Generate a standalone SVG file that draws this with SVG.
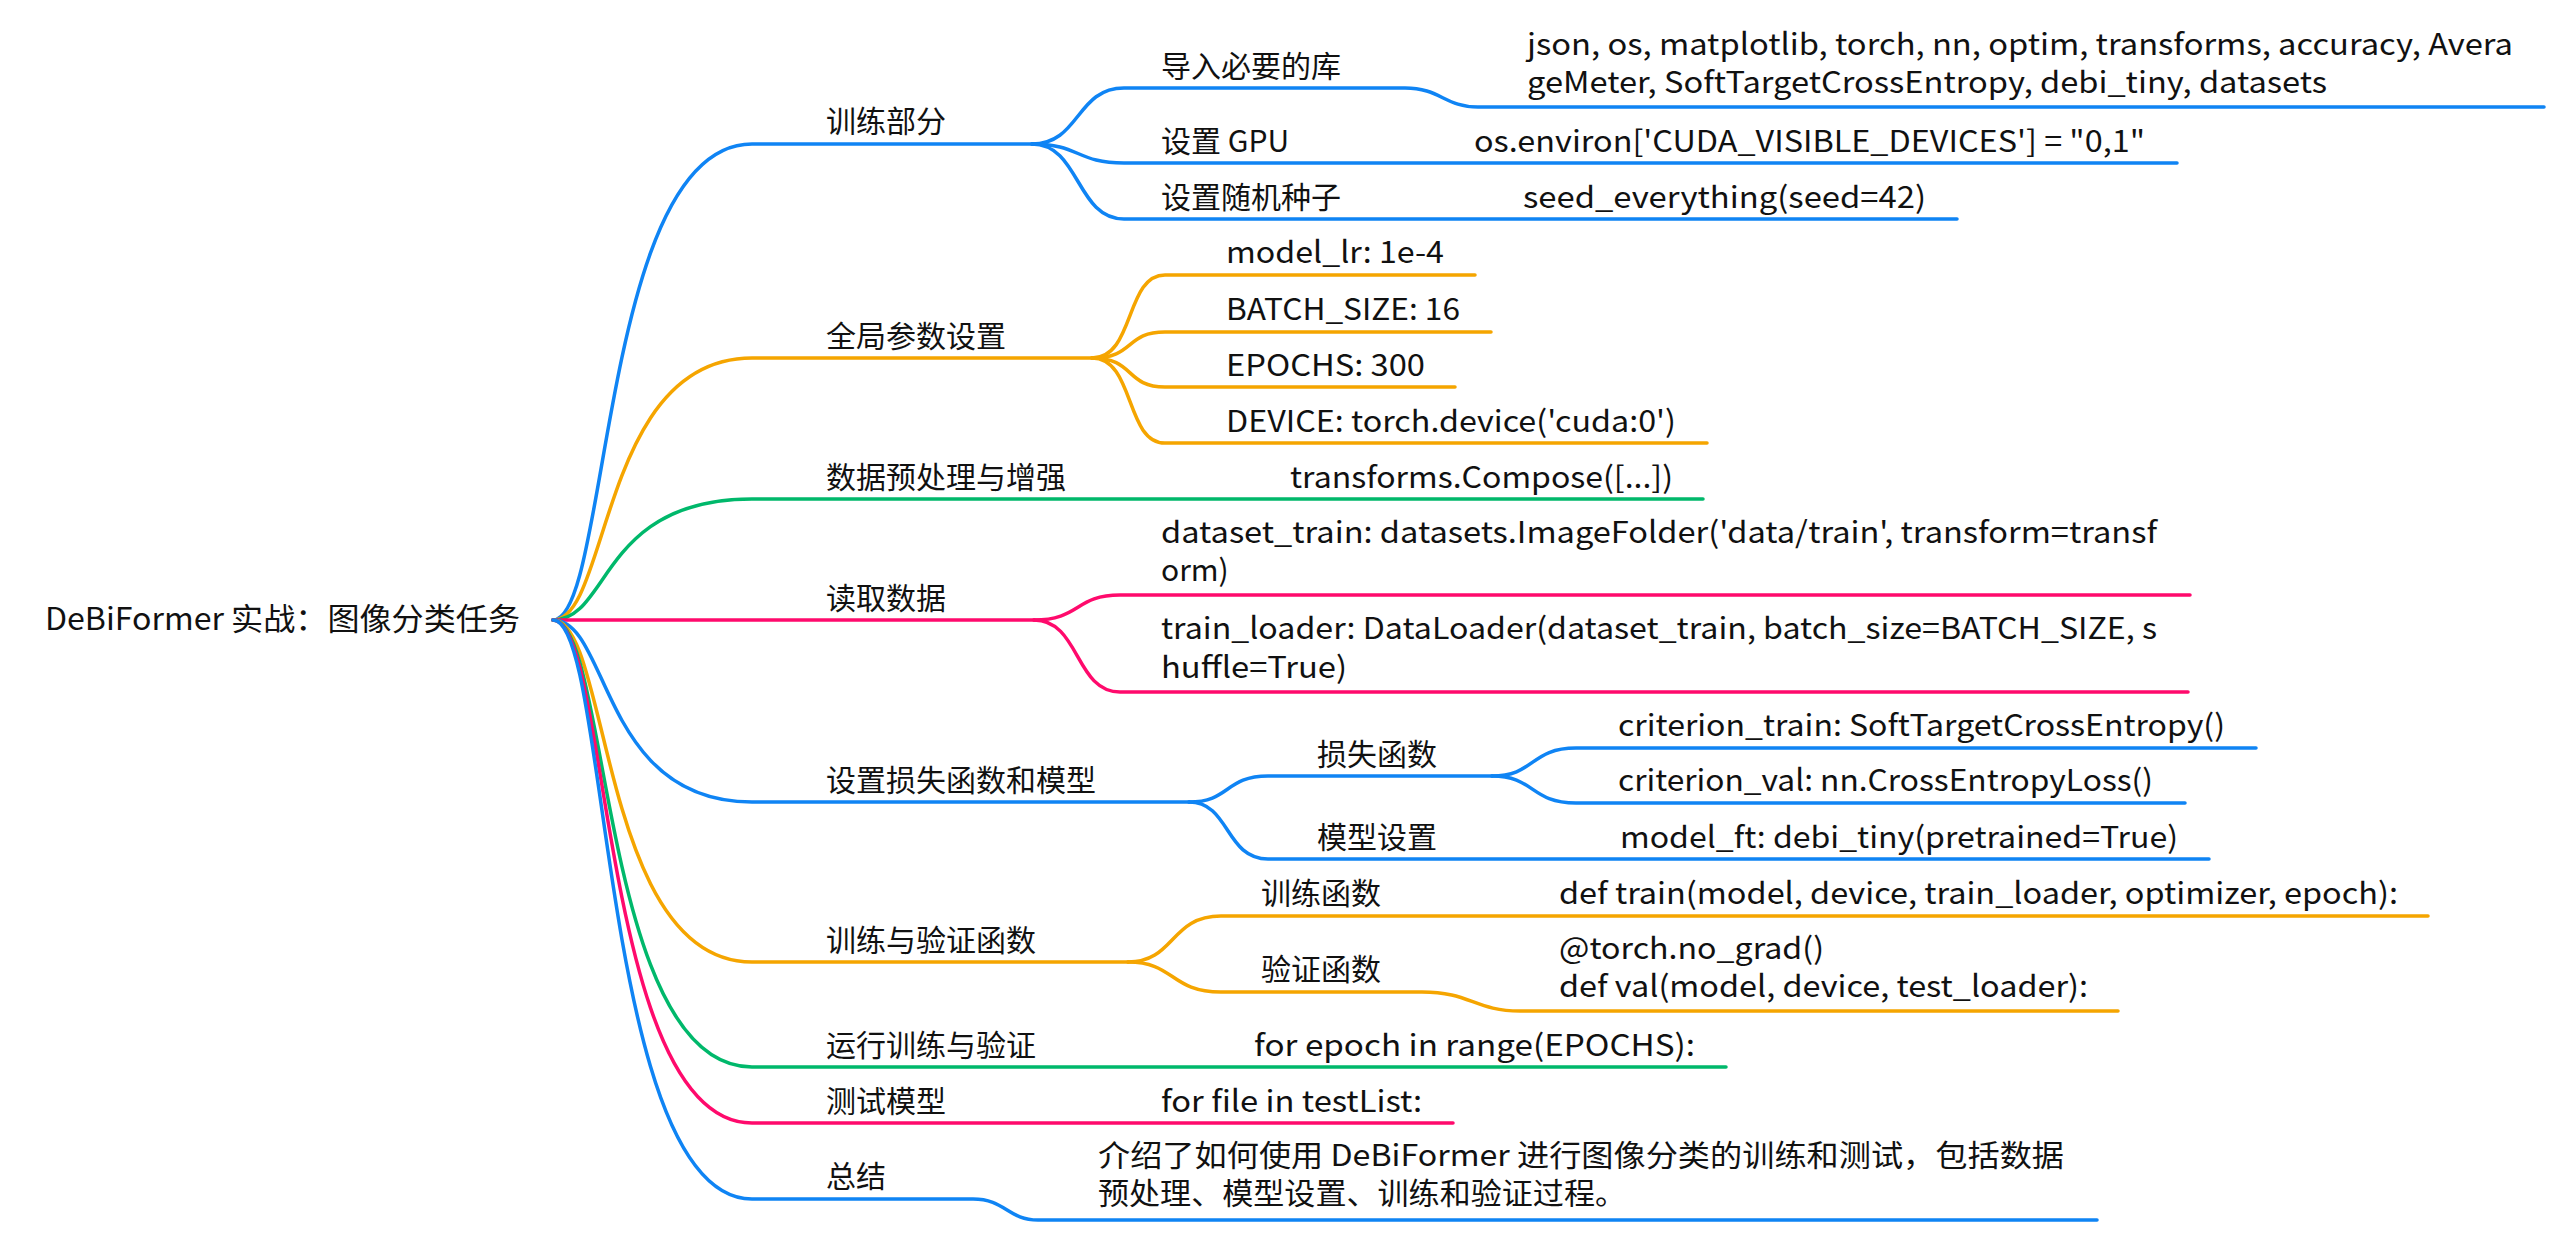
<svg xmlns="http://www.w3.org/2000/svg" width="2564" height="1240" viewBox="0 0 2564 1240">
<style>
text{font-family:"Noto Sans CJK SC","Noto Sans",sans-serif;font-size:30px;fill:#111}
.root{font-size:31px}
path{fill:none;stroke-width:3.5;stroke-linecap:round}
.b{stroke:#0f84f4}.o{stroke:#f5a500}.g{stroke:#00b86b}.p{stroke:#ff0a6c}
</style>
<rect width="2564" height="1240" fill="#fff"/>
<g id="connectors">
<path class="b" d="M553 620 C610 620 600 144 752 144 L1032 144"/>
<path class="b" d="M1032 144 C1080 144 1076 88 1124 88 L1405 88 C1440 88 1445 107 1478 107 L2544 107"/>
<path class="b" d="M1032 144 C1080 144 1076 163 1124 163 L2177 163"/>
<path class="b" d="M1032 144 C1080 144 1076 219 1124 219 L1957 219"/>
<path class="o" d="M553 620 C610 620 600 358 752 358 L1092 358"/>
<path class="o" d="M1092 358 C1135 358 1125 275 1165 275 L1475 275"/>
<path class="o" d="M1092 358 C1135 358 1125 332 1165 332 L1491 332"/>
<path class="o" d="M1092 358 C1135 358 1125 387 1165 387 L1455 387"/>
<path class="o" d="M1092 358 C1135 358 1125 443 1165 443 L1707 443"/>
<path class="g" d="M553 620 C610 620 600 499 752 499 L1703 499"/>
<path class="p" d="M553 620 C610 620 600 620 752 620 L1034 620"/>
<path class="p" d="M1034 620 C1080 620 1075 595 1120 595 L2190 595"/>
<path class="p" d="M1034 620 C1080 620 1075 692 1120 692 L2188 692"/>
<path class="b" d="M553 620 C610 620 600 802 752 802 L1189 802"/>
<path class="b" d="M1189 802 C1230 802 1225 776 1268 776 L1492 776"/>
<path class="b" d="M1492 776 C1535 776 1530 748 1576 748 L2256 748"/>
<path class="b" d="M1492 776 C1535 776 1530 803 1576 803 L2185 803"/>
<path class="b" d="M1189 802 C1230 802 1225 859 1268 859 L2209 859"/>
<path class="o" d="M553 620 C610 620 600 962 752 962 L1128 962"/>
<path class="o" d="M1128 962 C1175 962 1170 916 1221 916 L2428 916"/>
<path class="o" d="M1128 962 C1175 962 1170 992 1221 992 L1422 992 C1470 992 1475 1011 1520 1011 L2118 1011"/>
<path class="g" d="M553 620 C610 620 600 1067 752 1067 L1726 1067"/>
<path class="p" d="M553 620 C610 620 600 1123 752 1123 L1453 1123"/>
<path class="b" d="M553 620 C610 620 600 1199 752 1199 L973 1199 C1005 1199 1008 1220 1038 1220 L2097 1220"/>
</g>
<g id="root"><text class="root" x="45" y="630" textLength="475" lengthAdjust="spacingAndGlyphs">DeBiFormer 实战：图像分类任务</text></g>
<g id="n1"><text x="826" y="132">训练部分</text></g>
<g id="n1a"><text x="1161" y="77">导入必要的库</text><text x="1527" y="55" textLength="986" lengthAdjust="spacingAndGlyphs">json, os, matplotlib, torch, nn, optim, transforms, accuracy, Avera</text><text x="1527" y="93" textLength="800" lengthAdjust="spacingAndGlyphs">geMeter, SoftTargetCrossEntropy, debi_tiny, datasets</text></g>
<g id="n1b"><text x="1161" y="152">设置 GPU</text><text x="1474" y="152" textLength="671" lengthAdjust="spacingAndGlyphs">os.environ['CUDA_VISIBLE_DEVICES'] = "0,1"</text></g>
<g id="n1c"><text x="1161" y="208">设置随机种子</text><text x="1523" y="208" textLength="403" lengthAdjust="spacingAndGlyphs">seed_everything(seed=42)</text></g>
<g id="n2"><text x="826" y="347">全局参数设置</text></g>
<g id="n2a"><text x="1226" y="263" textLength="218" lengthAdjust="spacingAndGlyphs">model_lr: 1e-4</text></g>
<g id="n2b"><text x="1226" y="320" textLength="234" lengthAdjust="spacingAndGlyphs">BATCH_SIZE: 16</text></g>
<g id="n2c"><text x="1226" y="376" textLength="199" lengthAdjust="spacingAndGlyphs">EPOCHS: 300</text></g>
<g id="n2d"><text x="1226" y="432" textLength="450" lengthAdjust="spacingAndGlyphs">DEVICE: torch.device('cuda:0')</text></g>
<g id="n3"><text x="826" y="488">数据预处理与增强</text><text x="1290" y="488" textLength="383" lengthAdjust="spacingAndGlyphs">transforms.Compose([...])</text></g>
<g id="n4"><text x="826" y="609">读取数据</text></g>
<g id="n4a"><text x="1161" y="543" textLength="996" lengthAdjust="spacingAndGlyphs">dataset_train: datasets.ImageFolder('data/train', transform=transf</text><text x="1161" y="581">orm)</text></g>
<g id="n4b"><text x="1161" y="639" textLength="996" lengthAdjust="spacingAndGlyphs">train_loader: DataLoader(dataset_train, batch_size=BATCH_SIZE, s</text><text x="1161" y="678" textLength="186" lengthAdjust="spacingAndGlyphs">huffle=True)</text></g>
<g id="n5"><text x="826" y="791">设置损失函数和模型</text></g>
<g id="n5a"><text x="1317" y="765">损失函数</text></g>
<g id="n5a1"><text x="1618" y="736" textLength="607" lengthAdjust="spacingAndGlyphs">criterion_train: SoftTargetCrossEntropy()</text></g>
<g id="n5a2"><text x="1618" y="791" textLength="535" lengthAdjust="spacingAndGlyphs">criterion_val: nn.CrossEntropyLoss()</text></g>
<g id="n5b"><text x="1317" y="848">模型设置</text><text x="1620" y="848" textLength="558" lengthAdjust="spacingAndGlyphs">model_ft: debi_tiny(pretrained=True)</text></g>
<g id="n6"><text x="826" y="951">训练与验证函数</text></g>
<g id="n6a"><text x="1261" y="904">训练函数</text><text x="1559" y="904" textLength="839" lengthAdjust="spacingAndGlyphs">def train(model, device, train_loader, optimizer, epoch):</text></g>
<g id="n6b"><text x="1261" y="980">验证函数</text><text x="1559" y="959" textLength="265" lengthAdjust="spacingAndGlyphs">@torch.no_grad()</text><text x="1559" y="997" textLength="529" lengthAdjust="spacingAndGlyphs">def val(model, device, test_loader):</text></g>
<g id="n7"><text x="826" y="1056">运行训练与验证</text><text x="1254" y="1056" textLength="441" lengthAdjust="spacingAndGlyphs">for epoch in range(EPOCHS):</text></g>
<g id="n8"><text x="826" y="1112">测试模型</text><text x="1161" y="1112" textLength="261" lengthAdjust="spacingAndGlyphs">for file in testList:</text></g>
<g id="n9"><text x="826" y="1187">总结</text><text x="1098" y="1166" textLength="966" lengthAdjust="spacingAndGlyphs">介绍了如何使用 DeBiFormer 进行图像分类的训练和测试，包括数据</text><text x="1098" y="1204" textLength="528" lengthAdjust="spacingAndGlyphs">预处理、模型设置、训练和验证过程。</text></g>
</svg>
